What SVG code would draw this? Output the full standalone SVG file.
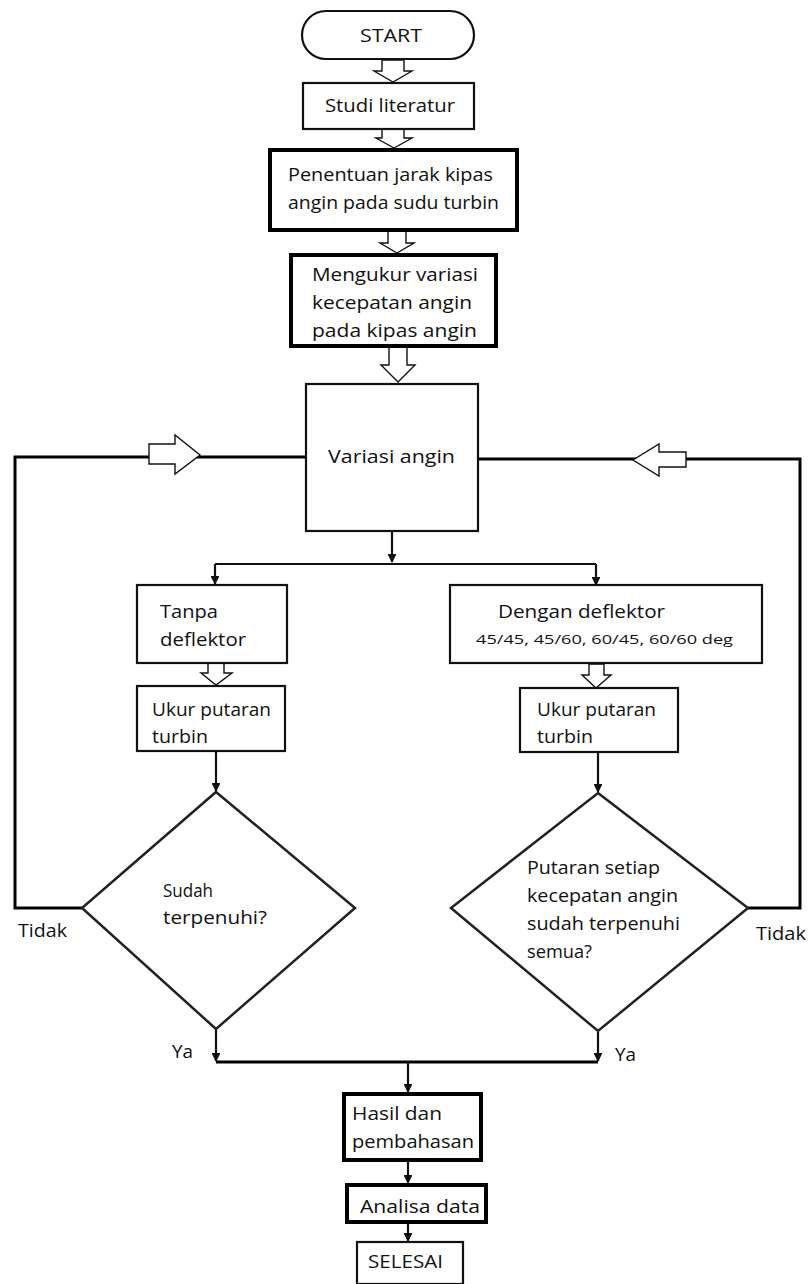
<svg xmlns="http://www.w3.org/2000/svg" width="811" height="1284" viewBox="0 0 811 1284">
<style>
text{font-family:"Open Sans","Noto Sans","Liberation Sans",sans-serif;font-size:18px;fill:#111}
.sm{font-size:13px}
.box{fill:#fff;stroke:#111;stroke-width:2.2}
.thick{fill:#fff;stroke:#000;stroke-width:4}
.blk{fill:#fff;stroke:#111;stroke-width:1.4;stroke-linejoin:miter}
.ln{fill:none;stroke:#111;stroke-width:2.2}
.lp{fill:none;stroke:#000;stroke-width:3}
.dm{fill:#fff;stroke:#222;stroke-width:2.5}
</style>
<defs>
<marker id="ah" viewBox="0 0 10 10" refX="9" refY="5" markerWidth="4" markerHeight="4" orient="auto"><path d="M0,0 L10,5 L0,10 z" fill="#111"/></marker>
</defs>
<g id="connectors">
<polygon class="blk" points="382,60 404,60 404,71 412,71 393,82 374,71 382,71"/>
<polygon class="blk" points="382,129 404,129 404,138 412,138 394,148 376,138 382,138"/>
<polygon class="blk" points="388,230 406,230 406,243 414,243 397,253 380,243 388,243"/>
<polygon class="blk" points="389,347 407,347 407,365 415,365 398,382 381,365 389,365"/>
<polyline class="lp" points="305,457 15,457 15,908 82,908"/>
<polygon class="blk" points="149,444 175,444 175,435 200,455 175,474 175,464 149,464"/>
<polyline class="lp" points="478,459 800,459 800,908 748,908"/>
<polygon class="blk" points="686,452 659,452 659,444 633,460 659,476 659,467 686,467"/>
<path class="ln" d="M392,532 V562" marker-end="url(#ah)"/>
<path class="ln" d="M215,564 H596"/>
<path class="ln" d="M215,564 V584" marker-end="url(#ah)"/>
<path class="ln" d="M596,564 V585" marker-end="url(#ah)"/>
<polygon class="blk" points="208,663 224,663 224,673 232,673 216,685 201,673 208,673"/>
<polygon class="blk" points="589,664 604,664 604,675 611,675 596,688 582,675 589,675"/>
<path class="ln" d="M216,751 V791" marker-end="url(#ah)"/>
<path class="ln" d="M598,752 V792" marker-end="url(#ah)"/>
<path class="ln" d="M216,1030 V1061" marker-end="url(#ah)"/>
<path class="ln" d="M598,1032 V1061" marker-end="url(#ah)"/>
<path class="lp" d="M216,1062 H598"/>
<path class="ln" d="M408,1062 V1092" marker-end="url(#ah)"/>
<path class="ln" d="M408,1160 V1183" marker-end="url(#ah)"/>
<path class="ln" d="M408,1222 V1241" marker-end="url(#ah)"/>
<text x="18" y="937" textLength="49" lengthAdjust="spacingAndGlyphs">Tidak</text>
<text x="756" y="940" textLength="50" lengthAdjust="spacingAndGlyphs">Tidak</text>
<text x="172" y="1058" textLength="21" lengthAdjust="spacingAndGlyphs">Ya</text>
<text x="615" y="1061" textLength="21" lengthAdjust="spacingAndGlyphs">Ya</text>
</g>
<g id="start">
<rect class="box" x="302" y="11" width="172" height="48" rx="24"/>
<text x="360" y="42" textLength="62" lengthAdjust="spacingAndGlyphs">START</text>
</g>
<g id="studi">
<rect class="box" x="303" y="83" width="171" height="46"/>
<text x="325" y="112" textLength="130" lengthAdjust="spacingAndGlyphs">Studi literatur</text>
</g>
<g id="penentuan">
<rect class="thick" x="270" y="150" width="247" height="80"/>
<text x="288" y="181" textLength="205" lengthAdjust="spacingAndGlyphs">Penentuan jarak kipas</text>
<text x="288" y="209" textLength="211" lengthAdjust="spacingAndGlyphs">angin pada sudu turbin</text>
</g>
<g id="mengukur">
<rect class="thick" x="291" y="255" width="205" height="91"/>
<text x="312" y="281" textLength="166" lengthAdjust="spacingAndGlyphs">Mengukur variasi</text>
<text x="312" y="309" textLength="160" lengthAdjust="spacingAndGlyphs">kecepatan angin</text>
<text x="312" y="337" textLength="165" lengthAdjust="spacingAndGlyphs">pada kipas angin</text>
</g>
<g id="variasi">
<rect class="box" x="306" y="384" width="172" height="147"/>
<text x="328" y="463" textLength="127" lengthAdjust="spacingAndGlyphs">Variasi angin</text>
</g>
<g id="tanpa">
<rect class="box" x="137" y="585" width="150" height="78"/>
<text x="160" y="618" textLength="58" lengthAdjust="spacingAndGlyphs">Tanpa</text>
<text x="160" y="646" textLength="86" lengthAdjust="spacingAndGlyphs">deflektor</text>
</g>
<g id="ukur-kiri">
<rect class="box" x="137" y="686" width="148" height="65"/>
<text x="152" y="716" textLength="119" lengthAdjust="spacingAndGlyphs">Ukur putaran</text>
<text x="152" y="743" textLength="56" lengthAdjust="spacingAndGlyphs">turbin</text>
</g>
<g id="dengan">
<rect class="box" x="450" y="585" width="312" height="78"/>
<text x="498" y="618" textLength="167" lengthAdjust="spacingAndGlyphs">Dengan deflektor</text>
<text class="sm" x="476" y="644" textLength="257" lengthAdjust="spacingAndGlyphs">45/45, 45/60, 60/45, 60/60 deg</text>
</g>
<g id="ukur-kanan">
<rect class="box" x="520" y="688" width="158" height="64"/>
<text x="537" y="716" textLength="119" lengthAdjust="spacingAndGlyphs">Ukur putaran</text>
<text x="537" y="743" textLength="56" lengthAdjust="spacingAndGlyphs">turbin</text>
</g>
<g id="cek-kiri">
<polygon class="dm" points="216,792 355,908 216,1029 82,908"/>
<text x="163" y="897" textLength="50" lengthAdjust="spacingAndGlyphs">Sudah</text>
<text x="163" y="924" textLength="104" lengthAdjust="spacingAndGlyphs">terpenuhi?</text>
</g>
<g id="cek-kanan">
<polygon class="dm" points="598,793 748,908 598,1031 451,908"/>
<text x="527" y="874" textLength="133" lengthAdjust="spacingAndGlyphs">Putaran setiap</text>
<text x="527" y="902" textLength="151" lengthAdjust="spacingAndGlyphs">kecepatan angin</text>
<text x="527" y="930" textLength="153" lengthAdjust="spacingAndGlyphs">sudah terpenuhi</text>
<text x="527" y="958" textLength="65" lengthAdjust="spacingAndGlyphs">semua?</text>
</g>
<g id="hasil">
<rect class="thick" x="344" y="1094" width="137" height="66"/>
<text x="352" y="1120" textLength="90" lengthAdjust="spacingAndGlyphs">Hasil dan</text>
<text x="352" y="1148" textLength="122" lengthAdjust="spacingAndGlyphs">pembahasan</text>
</g>
<g id="analisa">
<rect class="thick" x="347" y="1185" width="139" height="37"/>
<text x="360" y="1213" textLength="120" lengthAdjust="spacingAndGlyphs">Analisa data</text>
</g>
<g id="selesai">
<rect class="box" x="357" y="1242" width="106" height="42"/>
<text x="368" y="1268" textLength="75" lengthAdjust="spacingAndGlyphs">SELESAI</text>
</g>
</svg>
